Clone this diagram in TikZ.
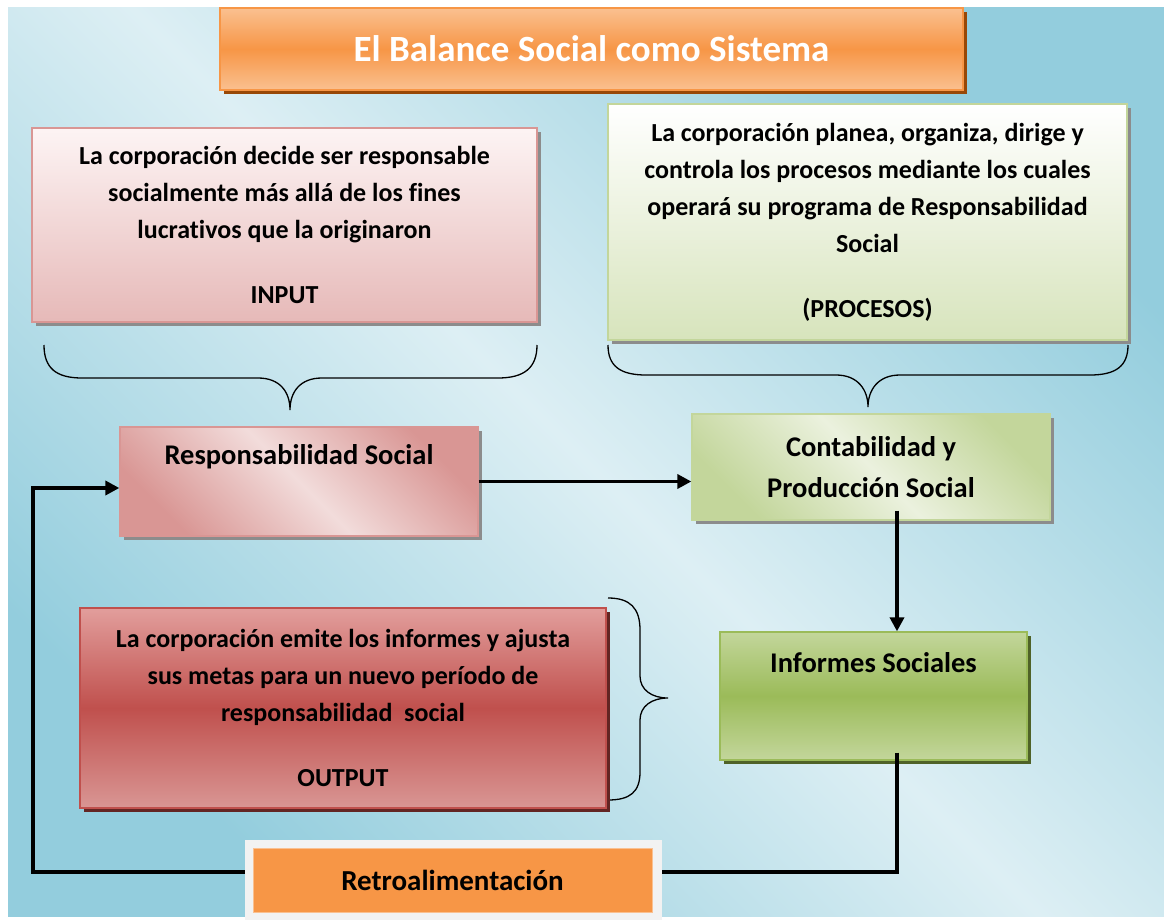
\documentclass[tikz,border=0pt]{standalone}
\usepackage{fontspec}
\setmainfont{Carlito}[Ligatures={NoCommon}]
\usetikzlibrary{arrows.meta,shadows}
\definecolor{bgdark}{HTML}{93CDDD}
\definecolor{bglight}{HTML}{DDEFF4}
\definecolor{orA}{HTML}{FAC090}
\definecolor{orB}{HTML}{F79646}
\definecolor{orS}{HTML}{984807}
\definecolor{pkA}{HTML}{FDF4F4}
\definecolor{pkB}{HTML}{E6B9B8}
\definecolor{pkC}{HTML}{D99694}
\definecolor{pkD}{HTML}{F2DCDB}
\definecolor{gnA}{HTML}{FFFFFF}
\definecolor{gnB}{HTML}{D7E4BC}
\definecolor{gnC}{HTML}{C3D69B}
\definecolor{gnD}{HTML}{EBF1DE}
\definecolor{gnE}{HTML}{9BBB59}
\definecolor{gnS}{HTML}{4F6228}
\definecolor{rdA}{HTML}{E29E9C}
\definecolor{rdB}{HTML}{C0504D}
\definecolor{rdS}{HTML}{632523}
\definecolor{shgray}{HTML}{8C8C8C}
\definecolor{frame}{HTML}{F2F2F2}
\tikzset{
  x=1pt, y=-1pt,
  boxbase/.style={draw, line width=1.3pt, inner sep=0pt, align=center},
  shad/.style={drop shadow={shadow xshift=4pt, shadow yshift=-4pt, fill=#1, opacity=1}},
  bodytxt/.style={font=\fontsize{26}{37}\selectfont\bfseries},
  headtxt/.style={font=\fontsize{28.5}{41}\selectfont\bfseries},
  conn/.style={line width=3.6pt, black},
  arr/.style={conn, -{Triangle[length=14pt,width=14pt]}},
  bracestyle/.style={line width=1.3pt, black}
}
\begin{document}
\begin{tikzpicture}
\useasboundingbox (0,0) rectangle (1164,920);
\fill[white] (0,0) rectangle (1164,920);
\fill[top color=bgdark, bottom color=bgdark, middle color=bglight, shading angle=135] (8,8) rectangle (1164,916);

% title
\node[boxbase, draw=orB, shad=orS, top color=orA, bottom color=orA, middle color=orB,
      minimum width=743, minimum height=82, text=white,
      font=\fontsize{37}{44}\selectfont\bfseries] (title) at (591.5,49) {El Balance Social como Sistema};

% input box
\node[boxbase, bodytxt, draw=pkC, shad=shgray, top color=pkA, bottom color=pkB,
      minimum width=505, minimum height=194] (input) at (284.5,225)
  {La corporación decide ser responsable\\socialmente más allá de los fines\\lucrativos que la originaron\\[28pt]INPUT};

% procesos box
\node[boxbase, bodytxt, draw=gnC, shad=shgray, top color=gnA, bottom color=gnB,
      minimum width=519, minimum height=236] (proc) at (867.5,222)
  {La corporación planea, organiza, dirige y\\controla los procesos mediante los cuales\\operará su programa de Responsabilidad\\Social\\[28pt](PROCESOS)};

% braces
\draw[bracestyle] (44,345) .. controls (44,368) and (56,378) .. (82,378) -- (258,378)
  .. controls (280,378) and (290,392) .. (290,410)
  .. controls (290,392) and (300,378) .. (322,378) -- (498,378)
  .. controls (524,378) and (537,368) .. (537,345);
\draw[bracestyle] (608,345) .. controls (608,366) and (620,375) .. (646,375) -- (836,375)
  .. controls (858,375) and (868,390) .. (868,407)
  .. controls (868,390) and (878,375) .. (900,375) -- (1090,375)
  .. controls (1116,375) and (1128,366) .. (1128,345);
\draw[bracestyle] (608,598) .. controls (630,598) and (640,608) .. (640,630) -- (640,676)
  .. controls (640,690) and (652,698) .. (668,698)
  .. controls (652,698) and (640,706) .. (640,720) -- (640,772)
  .. controls (640,792) and (630,800) .. (608,800);

% responsabilidad social
\node[boxbase, draw=pkC, shad=shgray, top color=pkC, bottom color=pkC, middle color=pkD, shading angle=135,
      minimum width=358, minimum height=109] (resp) at (299,481.5) {};
\node[headtxt, anchor=center] (resplbl) at ([yshift=25pt]resp.center) {Responsabilidad Social};

% contabilidad
\node[boxbase, headtxt, draw=gnC, shad=shgray, top color=gnC, bottom color=gnC, middle color=gnD, shading angle=135,
      minimum width=358, minimum height=106] (cont) at (871,467) {Contabilidad y\\Producción Social};

% informes sociales
\node[boxbase, draw=gnE, shad=gnS, top color=gnC, bottom color=gnC, middle color=gnE,
      minimum width=307, minimum height=128] (inf) at (873.5,696) {};
\node[headtxt, anchor=center] (inflbl) at ([yshift=33pt]inf.center) {Informes Sociales};

% output
\node[boxbase, bodytxt, draw=rdB, shad=rdS, top color=rdA, bottom color=pkC, middle color=rdB,
      minimum width=526, minimum height=200] (output) at (343,708)
  {La corporación emite los informes y ajusta\\sus metas para un nuevo período de\\responsabilidad\ \ social\\[28pt]OUTPUT};

% connectors
\draw[arr] (resp.east) -- (resp.east -| cont.west);
\draw[arr] ([xshift=26pt,yshift=10pt]cont.south) -- ([xshift=26pt]cont.south |- inf.north);

% retroalimentacion
\node[fill=frame, inner sep=0pt, minimum width=417, minimum height=80] (retroout) at (453.5,880) {};
\draw[conn] ([xshift=23.5pt,yshift=8pt]inf.south) |- ([yshift=8pt]retroout.east);
\draw[arr] ([yshift=8pt]retroout.west) -- ++(-212,0) |- ([yshift=-6.5pt]resp.west);
\node[fill=orB, draw=orA, line width=0.8pt, inner sep=0pt, minimum width=399, minimum height=64,
      font=\fontsize{29}{34}\selectfont\bfseries] (retro) at (452.5,880) {Retroalimentación};
\end{tikzpicture}
\end{document}
